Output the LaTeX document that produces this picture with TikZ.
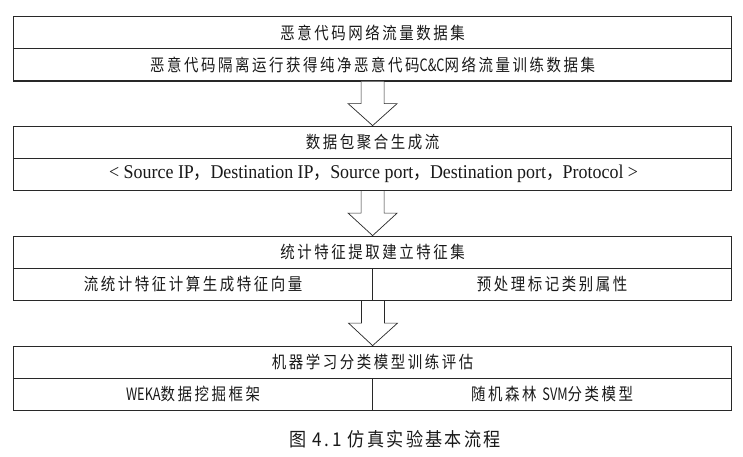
\documentclass[tikz,border=0pt]{standalone}
\usepackage{fontspec}
\setmainfont{Liberation Serif}
\newfontfamily\cjk[FakeStretch=0.85,LetterSpace=15]{Noto Sans CJK SC}
\newfontfamily\cjknarrow[FakeStretch=0.75]{Noto Sans CJK SC}
\newfontfamily\capcjk[FakeStretch=0.9,LetterSpace=12]{Noto Sans CJK SC}
\newfontfamily\lat[FakeStretch=0.92]{Liberation Serif}
\newcommand{\fc}{{\cjk ，}}
\usetikzlibrary{calc}
\definecolor{ln}{RGB}{40,40,40}
\definecolor{tx}{RGB}{25,25,25}
\begin{document}
\begin{tikzpicture}[x=1pt,y=-1pt,
  cell/.style={draw=ln, line width=0.8pt, minimum height=32pt, inner sep=0pt, text=tx,
    font=\cjk\fontsize{17}{17}\selectfont},
  full/.style={cell, minimum width=718.2pt},
  half/.style={cell, minimum width=359.1pt},
  bigarrow/.style={draw=ln, line width=0.7pt, fill=white, line join=miter},
  baseline/.style={draw=ln, line width=1.6pt}]
\useasboundingbox (0,0) rectangle (743,456);
% block 1
\node[full] (b1t) at (372.6,32.5) {恶意代码网络流量数据集};
\node[full] (b1b) at (372.6,64.5) {恶意代码隔离运行获得纯净恶意代码{\cjknarrow C\&C}网络流量训练数据集};
% block 2
\node[full] (b2t) at (372.6,142) {数据包聚合生成流};
\node[full, font=\lat\fontsize{19.5}{19.5}\selectfont] (b2b) at (372.6,174)
  {\hspace{2pt}< Source IP\fc Destination IP\fc Source port\fc Destination port\fc Protocol >};
% block 3
\node[full] (b3t) at (372.6,252) {统计特征提取建立特征集};
\node[half] (b3l) at (193.05,284) {流统计特征计算生成特征向量};
\node[half] (b3r) at (552.15,284) {预处理标记类别属性};
% block 4
\node[full] (b4t) at (372.6,362) {机器学习分类模型训练评估};
\node[half] (b4l) at (193.05,394) {{\cjknarrow WEKA}数据挖掘框架};
\node[half] (b4r) at (552.15,394) {随机森林 {\cjknarrow SVM}分类模型};
% heavier bottom edges
\draw[baseline] (b1b.south west) -- (b1b.south east);
\draw[baseline] (b2b.south west) -- (b2b.south east);
\draw[baseline] (b3l.south west) -- (b3r.south east);
\draw[baseline] (b4l.south west) -- (b4r.south east);
% arrows
\coordinate (a1) at (b1b.south);
\coordinate (a2) at (b2b.south);
\coordinate (a3) at (b3l.south east);
\draw[bigarrow] ($(a1)+(-11.5,0.8)$) -- ($(a1)+(-11.5,22.7)$) -- ($(a1)+(-24.5,22.7)$) -- (b2t.north) -- ($(a1)+(24.5,22.7)$) -- ($(a1)+(11.5,22.7)$) -- ($(a1)+(11.5,0.8)$);
\draw[bigarrow] ($(a2)+(-11.5,0.8)$) -- ($(a2)+(-11.5,22.7)$) -- ($(a2)+(-24.5,22.7)$) -- (b3t.north) -- ($(a2)+(24.5,22.7)$) -- ($(a2)+(11.5,22.7)$) -- ($(a2)+(11.5,0.8)$);
\draw[bigarrow] ($(a3)+(-11.5,0.8)$) -- ($(a3)+(-11.5,22.7)$) -- ($(a3)+(-24.5,22.7)$) -- (b4t.north) -- ($(a3)+(24.5,22.7)$) -- ($(a3)+(11.5,22.7)$) -- ($(a3)+(11.5,0.8)$);
% caption
\node[text=tx, font=\capcjk\fontsize{19}{19}\selectfont, inner sep=0pt] (cap) at (395,439) {图 4.\,1 仿真实验基本流程};
\end{tikzpicture}
\end{document}
